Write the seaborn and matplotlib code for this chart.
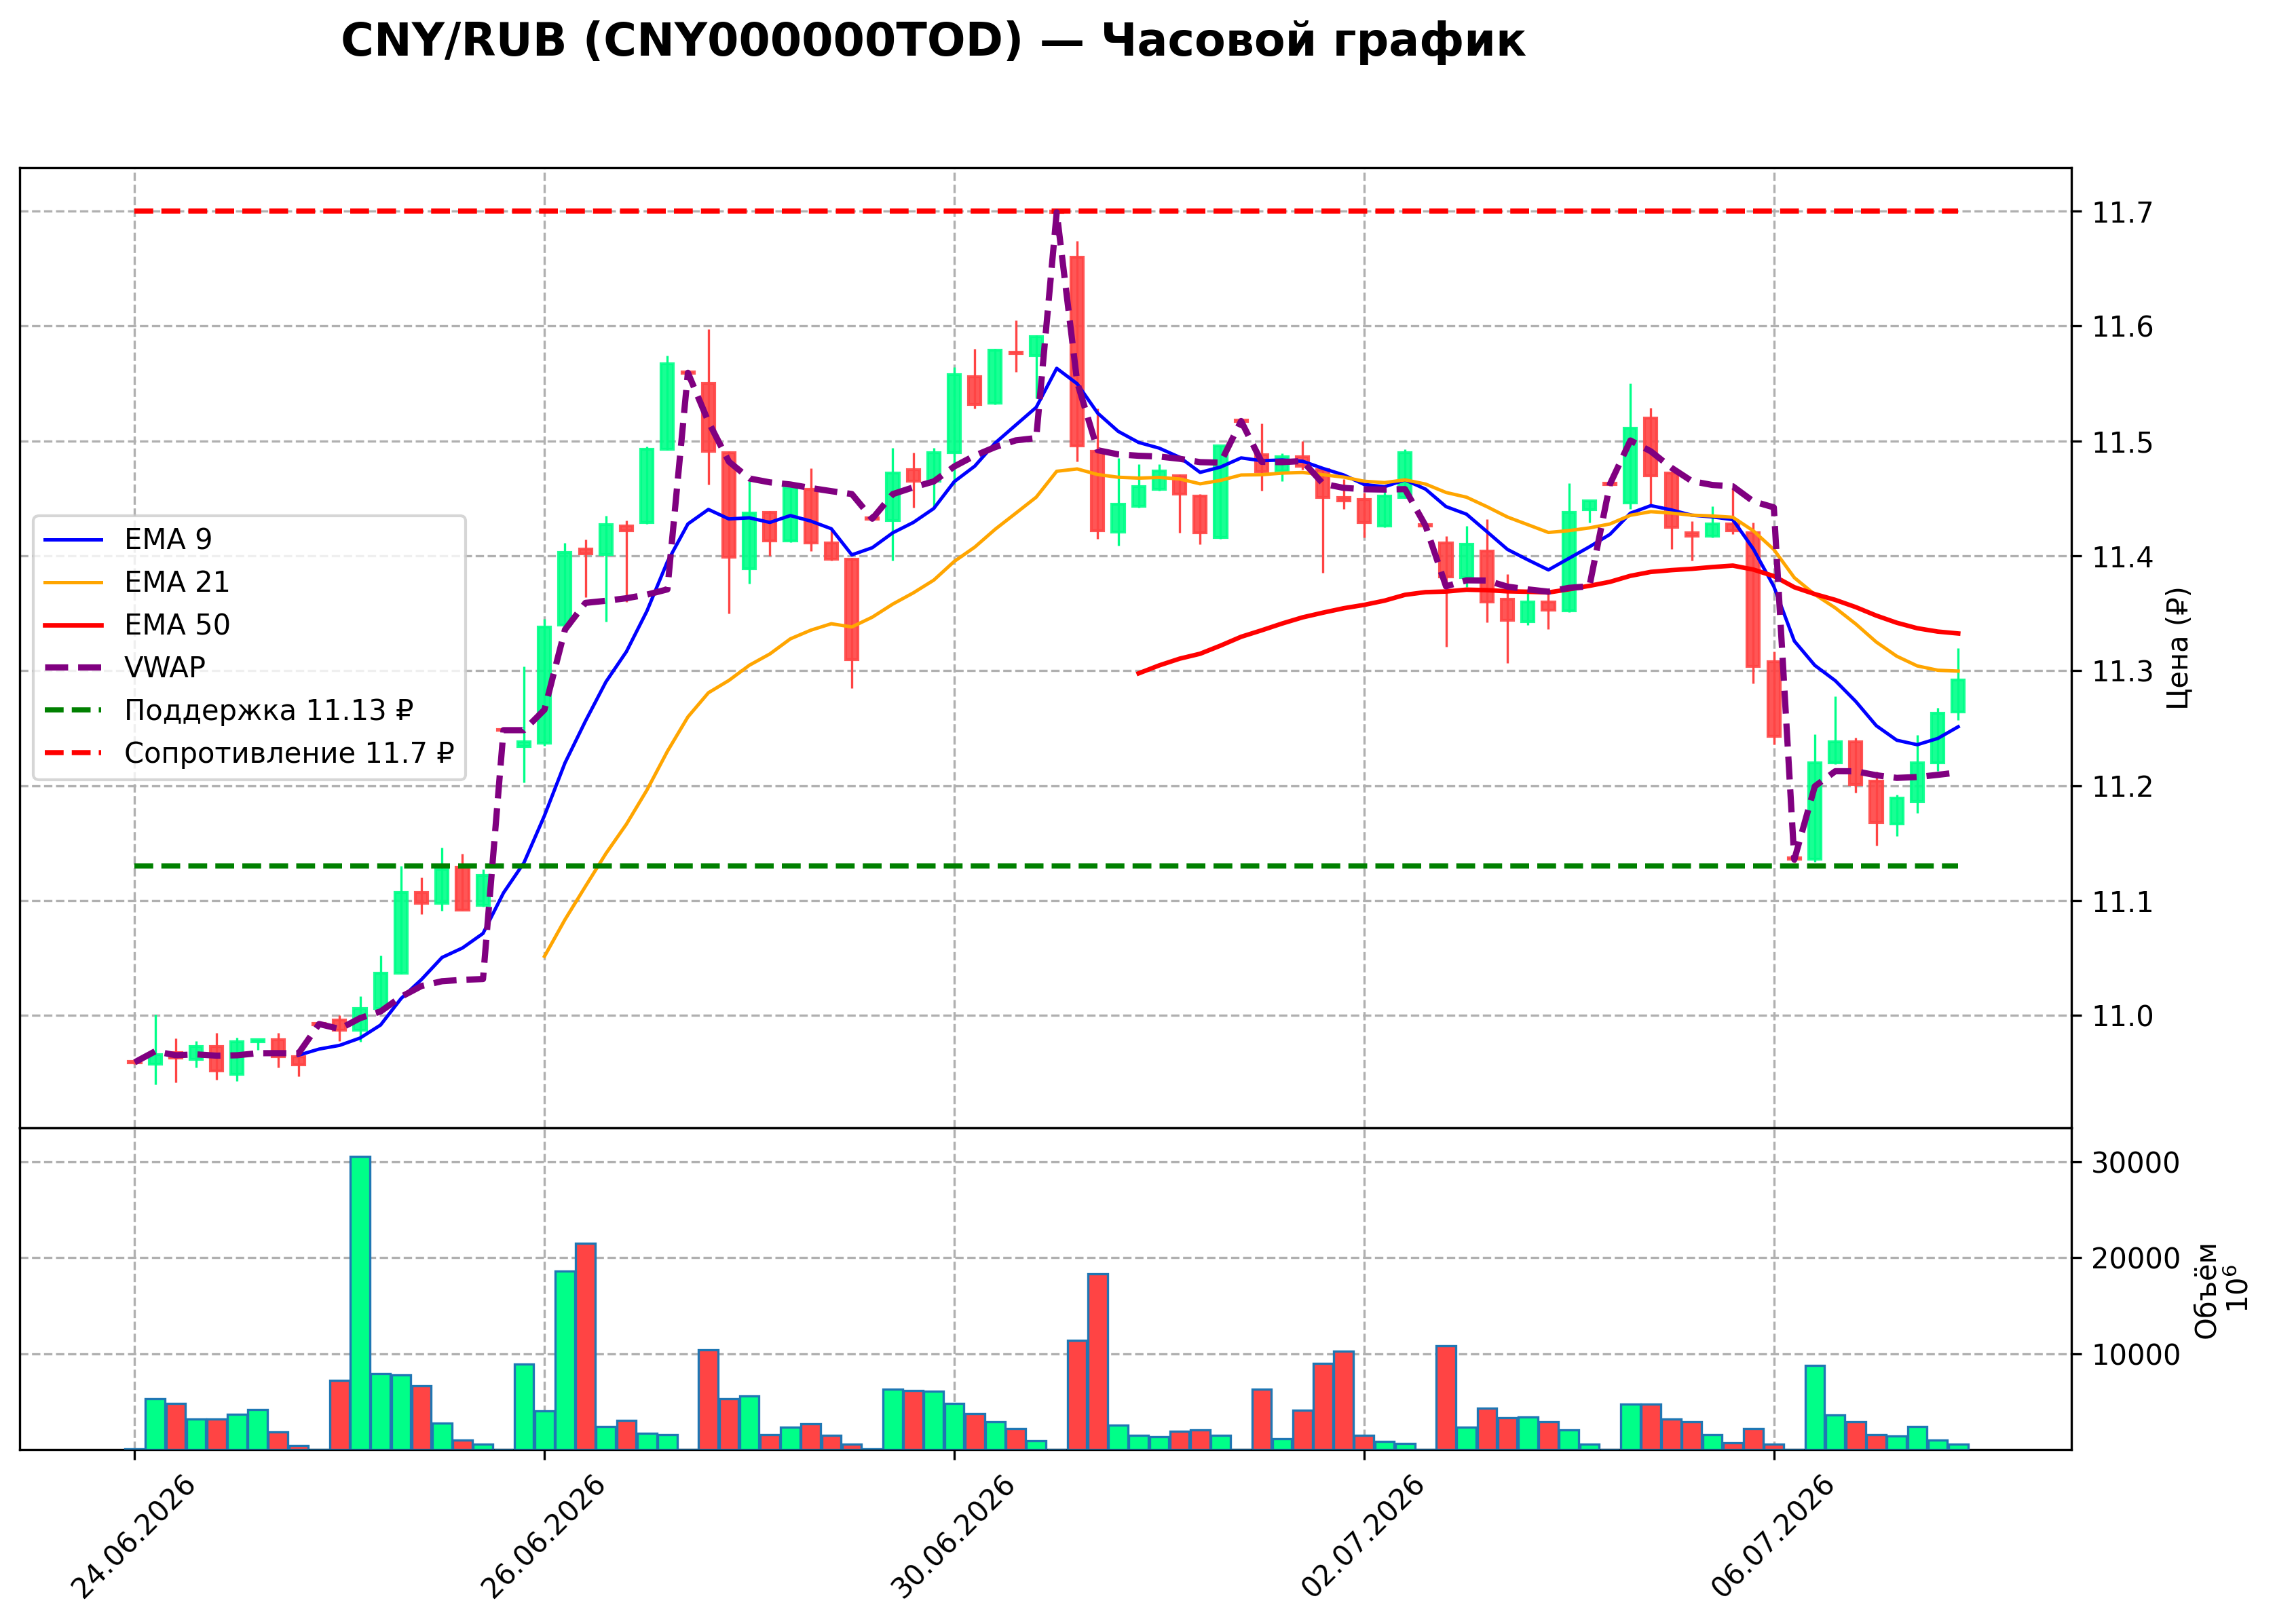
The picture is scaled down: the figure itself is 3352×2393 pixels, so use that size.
import numpy as np
import pandas as pd
import matplotlib
matplotlib.use("Agg")
import matplotlib.pyplot as plt
import seaborn as sns

# ---------------- data ----------------
days = ['24.06.2026', '25.06.2026', '26.06.2026', '29.06.2026', '30.06.2026',
        '01.07.2026', '02.07.2026', '03.07.2026', '06.07.2026', '07.07.2026']
candles_per_day = 9

open_ = [10.960, 10.958, 10.968, 10.962, 10.973, 10.949, 10.977, 10.979, 10.964,
         10.993, 10.996, 10.987, 11.006, 11.037, 11.107, 11.098, 11.129, 11.096,
         11.249, 11.234, 11.237, 11.340, 11.406, 11.401, 11.426, 11.429, 11.493,
         11.560, 11.550, 11.490, 11.389, 11.438, 11.413, 11.458, 11.411, 11.397,
         11.433, 11.431, 11.475, 11.465, 11.490, 11.556, 11.533, 11.577, 11.574,
         11.700, 11.660, 11.491, 11.421, 11.443, 11.458, 11.470, 11.452, 11.416,
         11.518, 11.488, 11.474, 11.486, 11.475, 11.451, 11.449, 11.426, 11.451,
         11.427, 11.411, 11.381, 11.404, 11.362, 11.343, 11.360, 11.352, 11.440,
         11.463, 11.446, 11.520, 11.472, 11.420, 11.417, 11.428, 11.420, 11.308,
         11.137, 11.136, 11.220, 11.238, 11.204, 11.167, 11.186, 11.220, 11.264]
high = [10.961, 11.001, 10.980, 10.978, 10.985, 10.981, 10.979, 10.985, 10.964,
        10.994, 11.000, 11.017, 11.052, 11.130, 11.120, 11.146, 11.141, 11.127,
        11.250, 11.304, 11.345, 11.411, 11.414, 11.435, 11.431, 11.495, 11.574,
        11.561, 11.597, 11.491, 11.465, 11.439, 11.460, 11.476, 11.422, 11.398,
        11.434, 11.494, 11.490, 11.494, 11.564, 11.580, 11.580, 11.605, 11.592,
        11.700, 11.674, 11.528, 11.485, 11.480, 11.480, 11.471, 11.454, 11.496,
        11.519, 11.515, 11.489, 11.500, 11.476, 11.467, 11.455, 11.459, 11.493,
        11.428, 11.417, 11.426, 11.432, 11.384, 11.368, 11.368, 11.463, 11.448,
        11.464, 11.550, 11.529, 11.473, 11.430, 11.443, 11.459, 11.429, 11.317,
        11.138, 11.245, 11.278, 11.242, 11.212, 11.192, 11.244, 11.268, 11.320]
low = [10.958, 10.940, 10.942, 10.955, 10.944, 10.943, 10.970, 10.955, 10.947,
       10.992, 10.978, 10.977, 11.005, 11.036, 11.088, 11.091, 11.092, 11.095,
       11.247, 11.203, 11.235, 11.339, 11.364, 11.343, 11.360, 11.428, 11.492,
       11.558, 11.462, 11.350, 11.376, 11.400, 11.412, 11.404, 11.396, 11.285,
       11.431, 11.396, 11.442, 11.442, 11.462, 11.528, 11.532, 11.560, 11.537,
       11.698, 11.482, 11.415, 11.409, 11.442, 11.457, 11.420, 11.410, 11.415,
       11.516, 11.457, 11.465, 11.475, 11.385, 11.441, 11.416, 11.425, 11.450,
       11.425, 11.321, 11.373, 11.342, 11.307, 11.340, 11.336, 11.351, 11.429,
       11.461, 11.441, 11.445, 11.406, 11.396, 11.416, 11.419, 11.289, 11.236,
       11.133, 11.134, 11.219, 11.194, 11.148, 11.156, 11.176, 11.213, 11.257]
close = [10.959, 10.966, 10.963, 10.973, 10.952, 10.977, 10.979, 10.964, 10.957,
         10.992, 10.987, 11.006, 11.037, 11.107, 11.098, 11.127, 11.092, 11.122,
         11.248, 11.238, 11.338, 11.403, 11.402, 11.427, 11.422, 11.493, 11.567,
         11.559, 11.491, 11.399, 11.437, 11.413, 11.459, 11.411, 11.397, 11.310,
         11.432, 11.472, 11.465, 11.490, 11.558, 11.532, 11.579, 11.576, 11.591,
         11.699, 11.496, 11.422, 11.445, 11.460, 11.474, 11.454, 11.420, 11.496,
         11.517, 11.473, 11.486, 11.478, 11.451, 11.448, 11.429, 11.452, 11.490,
         11.426, 11.382, 11.410, 11.360, 11.344, 11.360, 11.353, 11.438, 11.448,
         11.462, 11.511, 11.470, 11.425, 11.417, 11.428, 11.422, 11.304, 11.243,
         11.136, 11.220, 11.238, 11.201, 11.168, 11.189, 11.220, 11.263, 11.292]
volume = [40, 5290, 4820, 3155, 3155, 3680, 4150, 1825, 400,
          30, 7240, 30580, 7950, 7800, 6640, 2730, 970, 545,
          30, 8940, 4010, 18620, 21520, 2370, 3010, 1730, 1590,
          30, 10415, 5290, 5575, 1540, 2300, 2680, 1495, 590,
          70, 6290, 6145, 6100, 4820, 3725, 2920, 2205, 925,
          30, 11390, 18290, 2540, 1495, 1350, 1920, 2015, 1450,
          30, 6290, 1140, 4080, 8970, 10270, 1450, 830, 640,
          30, 10840, 2350, 4290, 3300, 3370, 2920, 2015, 590,
          30, 4720, 4720, 3200, 2920, 1590, 735, 2205, 590,
          30, 8780, 3580, 2920, 1590, 1400, 2370, 1020, 590]

support_level = 11.13
resistance_level = 11.7
tick_positions = [0, 20, 40, 60, 80]
volume_ticks = [10000, 20000, 30000]
title = 'CNY/RUB (CNY000000TOD) — Часовой график'

# ---------------- derived series ----------------
df = pd.DataFrame({'open': open_, 'high': high, 'low': low,
                   'close': close, 'volume': volume})
df['idx'] = np.arange(len(df))
df['day'] = np.repeat(days, candles_per_day)[:len(df)]


def ema(series, n):
    out = pd.Series(np.nan, index=series.index)
    seed = pd.Series([series.iloc[:n].mean()], index=[series.index[n - 1]])
    tail = pd.concat([seed, series.iloc[n:]])
    out.loc[tail.index] = tail.ewm(span=n, adjust=False).mean().values
    return out


df['ema9'] = ema(df['close'], 9)
df['ema21'] = ema(df['close'], 21)
df['ema50'] = ema(df['close'], 50)
tp = (df['high'] + df['low'] + df['close']) / 3
df['tpv'] = tp * df['volume']
df['vwap'] = df.groupby('day')['tpv'].cumsum() / df.groupby('day')['volume'].cumsum()

# ---------------- figure ----------------
plt.rcParams['font.family'] = ['DejaVu Sans', 'Noto Sans']
plt.rcParams['font.size'] = 10

W, H, DPI = 3353, 2393, 300
fig = plt.figure(figsize=(W / DPI, H / DPI), dpi=DPI)
left, right = 0.0085, 0.9102
ax = fig.add_axes([left, 0.3053, right - left, 0.8969 - 0.3053])
axv = fig.add_axes([left, 0.1074, right - left, 0.3053 - 0.1074], sharex=ax)

up = df['close'] >= df['open']
green, red = '#00ff88', '#ff4444'
colors = np.where(up, green, red)

# candles
ax.vlines(df['idx'], df['low'], df['high'], colors=colors, lw=0.8, zorder=2)
ax.bar(df['idx'], (df['close'] - df['open']).abs(),
       bottom=np.minimum(df['open'], df['close']), width=0.6,
       color=colors, edgecolor=colors, linewidth=1.0, alpha=0.9, zorder=3)

# indicator lines
sns.lineplot(data=df, x='idx', y='ema9', ax=ax, color='blue', lw=1.2,
             label='EMA 9', estimator=None, errorbar=None, zorder=4)
sns.lineplot(data=df, x='idx', y='ema21', ax=ax, color='orange', lw=1.2,
             label='EMA 21', estimator=None, errorbar=None, zorder=4)
sns.lineplot(data=df, x='idx', y='ema50', ax=ax, color='red', lw=1.6,
             label='EMA 50', estimator=None, errorbar=None, zorder=4)
sns.lineplot(data=df, x='idx', y='vwap', ax=ax, color='purple', lw=2.2,
             linestyle='--', label='VWAP', estimator=None, errorbar=None, zorder=5)
x_ends = [df['idx'].iloc[0], df['idx'].iloc[-1]]
ax.plot(x_ends, [support_level] * 2, color='green', lw=1.8, linestyle='--',
        label=f'Поддержка {support_level} ₽', zorder=4)
ax.plot(x_ends, [resistance_level] * 2, color='red', lw=1.8, linestyle='--',
        label=f'Сопротивление {resistance_level} ₽', zorder=4)

rng = df['high'].max() - df['low'].min()
ax.set_ylim(df['low'].min() - 0.05 * rng, df['high'].max() + 0.05 * rng)
ax.set_xlim(-5.63, 94.52)
ax.set_xlabel('')
ax.set_ylabel('Цена (₽)')
ax.yaxis.tick_right()
ax.yaxis.set_label_position('right')
ax.grid(True, linestyle='--', color='#b0b0b0', lw=0.8)
ax.tick_params(labelbottom=False)
ax.legend(loc='center left', fontsize=10)

# volume
axv.bar(df['idx'], df['volume'], width=0.95, color=colors,
        edgecolor='#1f77b4', linewidth=0.8, zorder=3)
axv.set_ylim(0, df['volume'].max() * 1.095)
axv.set_yticks(volume_ticks)
axv.yaxis.tick_right()
axv.yaxis.set_label_position('right')
axv.set_ylabel('Объём\n$10^6$')
axv.grid(True, linestyle='--', color='#b0b0b0', lw=0.8)
axv.set_xticks(tick_positions)
axv.set_xticklabels([df['day'].iloc[i] for i in tick_positions], rotation=45)
axv.set_xlabel('')

fig.text(0.4104, 1 - 81.7 / H, title, ha='center', va='baseline',
         fontsize=16, fontweight='bold')

fig.savefig('out.png', dpi=DPI)
